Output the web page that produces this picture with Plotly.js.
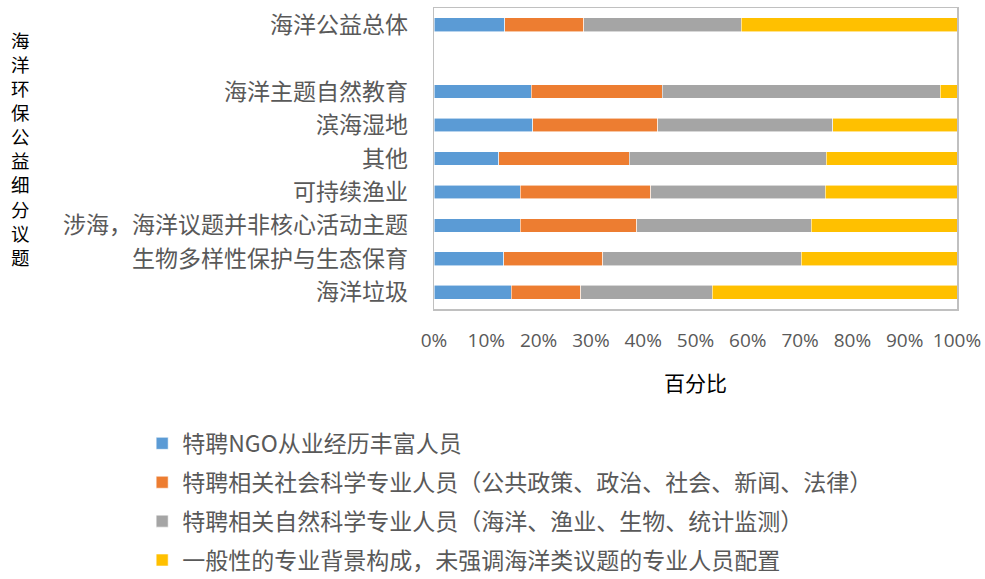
<!DOCTYPE html>
<html>
<head>
<meta charset="utf-8">
<script src="https://cdn.plot.ly/plotly-3.0.1.min.js"></script>
<style>html,body{margin:0;padding:0;background:#fff;}#chart{width:985px;height:579px;}</style>
</head>
<body>
<div id="chart"></div>
<script>
// Categories top to bottom (" " is the empty slot in the original chart)
const categories = ["海洋公益总体", " ", "海洋主题自然教育", "滨海湿地", "其他", "可持续渔业", "涉海，海洋议题并非核心活动主题", "生物多样性保护与生态保育", "海洋垃圾"];

const seriesNames = [
  "特聘NGO从业经历丰富人员",
  "特聘相关社会科学专业人员（公共政策、政治、社会、新闻、法律）",
  "特聘相关自然科学专业人员（海洋、渔业、生物、统计监测）",
  "一般性的专业背景构成，未强调海洋类议题的专业人员配置"
];

// Shares (fractions), in category order
const ngoExperienced = [0.135, null, 0.186, 0.189, 0.124, 0.165, 0.165, 0.133, 0.148];
const socialScience  = [0.151, null, 0.250, 0.239, 0.249, 0.249, 0.223, 0.190, 0.133];
const naturalScience = [0.301, null, 0.532, 0.334, 0.377, 0.334, 0.333, 0.379, 0.251];
const generalStaff   = [0.413, null, 0.032, 0.238, 0.250, 0.252, 0.279, 0.298, 0.468];

const colors = ["#5b9bd5", "#ed7d31", "#a5a5a5", "#ffc000"];
const seriesValues = [ngoExperienced, socialScience, naturalScience, generalStaff];

const xTickVals = [0, 0.1, 0.2, 0.3, 0.4, 0.5, 0.6, 0.7, 0.8, 0.9, 1.0];
const xTitle = "百分比";
const yTitle = "海洋环保公益细分议题";

const cjk = '"Noto Sans CJK SC", "Noto Sans", sans-serif';

const traces = seriesValues.map((vals, i) => ({
  type: "bar",
  orientation: "h",
  name: seriesNames[i],
  y: categories,
  x: vals,
  legendgroup: "g" + i,
  marker: {color: colors[i], line: {color: "rgba(255,255,255,0.7)", width: 0.8}},
  hoverinfo: "x+y+name"
}));

// Vertical (stacked-character) y axis title
const annotations = Array.from(yTitle).map((ch, i) => ({
  text: ch,
  xref: "paper", yref: "paper",
  x: -0.79, y: 0.895 - i * 0.0802,
  xanchor: "center", yanchor: "middle",
  showarrow: false,
  font: {family: cjk, size: 18.5, color: "#000"}
}));

const layout = {
  width: 985, height: 579,
  margin: {l: 434, r: 28, t: 8, b: 270, autoexpand: false},
  paper_bgcolor: "#fff", plot_bgcolor: "#fff",
  barmode: "stack",
  bargap: 0.59,
  showlegend: true,
  legend: {
    x: -0.558, y: -0.375, xanchor: "left", yanchor: "top",
    orientation: "v",
    traceorder: "grouped",
    tracegroupgap: 6,
    font: {family: cjk, size: 23, color: "#595959"},
    bgcolor: "rgba(0,0,0,0)"
  },
  xaxis: {
    range: [0, 1],
    tickvals: xTickVals,
    tickformat: ".0%",
    showgrid: false, zeroline: false,
    showline: true, mirror: true, linecolor: "#c0c0c0", linewidth: 1.5,
    ticks: "outside", ticklen: 14, tickcolor: "rgba(0,0,0,0)",
    tickfont: {family: '"Open Sans", "Liberation Sans", sans-serif', size: 19, color: "#595959"},
    title: {text: xTitle, standoff: 24, font: {family: cjk, size: 21, color: "#000"}},
    automargin: false,
    fixedrange: true
  },
  yaxis: {
    type: "category",
    categoryorder: "array",
    categoryarray: categories,
    autorange: "reversed",
    showgrid: false, zeroline: false,
    showline: true, mirror: true, linecolor: "#c0c0c0", linewidth: 1.5,
    ticks: "outside", ticklen: 20, tickcolor: "rgba(0,0,0,0)",
    tickfont: {family: cjk, size: 23, color: "#595959"},
    automargin: false,
    fixedrange: true
  },
  annotations: annotations
};

Plotly.newPlot("chart", traces, layout, {displayModeBar: false, staticPlot: true});
</script>
</body>
</html>
